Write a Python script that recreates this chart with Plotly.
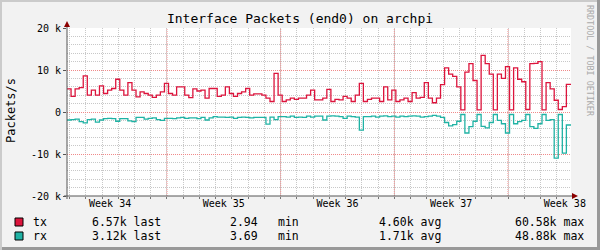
import plotly.graph_objects as go
import pandas as pd

# ---------------- data (k packets/s, 6-hour steps) ----------------
tx_k = [5.5, 3.7, 5.5, 5.8, 8.6, 4.0, 5.2, 4.0, 6.2, 4.4,
        5.2, 5.6, 7.8, 5.2, 4.0, 7.0, 5.2, 3.6, 4.8, 4.4,
        4.0, 3.5, 4.0, 4.8, 6.8, 4.4, 4.0, 6.0, 6.0, 4.0,
        3.4, 5.5, 5.0, 5.2, 3.3, 5.6, 5.6, 3.7, 4.0, 6.0,
        4.4, 3.7, 4.4, 4.8, 5.6, 4.0, 4.3, 4.3, 4.0, 3.3,
        2.5, 9.2, 4.0, 2.5, 2.9, 3.3, 3.0, 3.3, 3.3, 4.0,
        5.2, 2.9, 2.9, 3.3, 5.4, 2.5, 3.0, 2.9, 3.7, 3.3,
        2.5, 4.0, 6.8, 2.5, 3.0, 3.3, 3.3, 2.5, 6.0, 2.9,
        5.2, 2.5, 2.9, 3.3, 2.5, 4.6, 3.3, 3.5, 7.0, 3.3,
        2.2, 3.3, 6.5, 10.5, 9.0, 8.5, 6.0, 0.5, 9.5, 11.5,
        7.5, 0.5, 13.5, 11.5, 9.0, 0.5, 9.0, 8.0, 10.8, 0.5,
        10.5, 7.8, 7.2, 0.6, 11.5, 11.6, 12.0, 0.5, 7.0, 5.5,
        2.8, 0.6, 1.3, 6.6]
rx_k = [1.9, 1.8, 1.7, 2.3, 2.6, 1.8, 1.7, 2.4, 1.9, 1.6,
        1.5, 1.6, 2.2, 1.6, 1.6, 2.1, 2.3, 1.3, 1.3, 1.7,
        1.5, 1.4, 1.8, 2.0, 1.5, 1.5, 1.6, 1.4, 1.3, 1.5,
        1.4, 1.4, 1.6, 1.3, 1.9, 1.4, 1.1, 1.2, 1.2, 1.3,
        1.2, 1.5, 1.3, 1.2, 1.3, 1.4, 1.3, 1.3, 1.3, 2.9,
        1.2, 1.8, 1.1, 1.1, 1.2, 1.0, 1.3, 1.2, 1.3, 1.0,
        1.2, 1.0, 1.0, 1.9, 1.0, 0.9, 1.0, 1.1, 1.5, 1.0,
        1.1, 1.2, 4.3, 1.1, 1.1, 1.0, 1.2, 1.0, 0.9, 1.1,
        1.0, 1.2, 1.0, 1.1, 1.0, 0.9, 1.0, 1.2, 1.1, 1.0,
        0.8, 1.0, 1.3, 2.5, 3.3, 3.0, 2.2, 0.6, 5.0, 3.5,
        2.2, 0.6, 3.4, 3.8, 2.5, 0.6, 2.0, 2.8, 5.0, 0.6,
        2.8, 2.3, 2.0, 0.6, 3.5, 3.9, 2.8, 0.6, 2.0, 1.8,
        11.0, 0.6, 9.8, 3.1]

start_time = "2023-08-21 20:15"
end_time = "2023-09-21 21:05"
week_starts = ["2023-08-28", "2023-09-04", "2023-09-11", "2023-09-18"]
week_label_pos = ["2023-08-24 12:00", "2023-08-31 12:00", "2023-09-07 12:00",
                  "2023-09-14 12:00", "2023-09-21 12:00"]
week_labels = ["Week 34", "Week 35", "Week 36", "Week 37", "Week 38"]
y_tickvals = [-20000, -10000, 0, 10000, 20000]
y_ticktext = ["-20 k", "-10 k", "0", "10 k", "20 k"]

series_names = ["tx", "rx"]
series_colors = ["#DC143C", "#20B2A4"]
stat_last = ["6.57k", "3.12k"]
stat_min = ["2.94", "3.69"]
stat_avg = ["4.60k", "1.71k"]
stat_max = ["60.58k", "48.88k"]

# ---------------- geometry (pixels) ----------------
WIDTH, HEIGHT = 600, 250
L, R, T, B = 67, 571, 28, 196
PW, PH = R - L, B - T


def px(x):
    return (x - L) / PW


def py(y):
    return (B - y) / PH


FONT = "DejaVu Sans Mono"

times = pd.date_range(start_time, periods=len(tx_k), freq="6h")
x_vals = list(times) + [pd.Timestamp(end_time)]
tx_vals = [v * 1000 for v in tx_k] + [tx_k[-1] * 1000]
rx_vals = [-v * 1000 for v in rx_k] + [-rx_k[-1] * 1000]

fig = go.Figure()
for name, vals, col in zip(series_names, [tx_vals, rx_vals], series_colors):
    fig.add_trace(go.Scatter(x=x_vals, y=vals, mode="lines", name=name,
                             line=dict(color=col, width=1.3, shape="hv"),
                             showlegend=False, hoverinfo="skip"))

# red week boundary lines
for w in week_starts:
    fig.add_shape(type="line", xref="x", yref="paper", x0=w, x1=w, y0=0, y1=1,
                  line=dict(color="#F08A8A", width=1, dash="1px,1px"), layer="between")

fig.update_layout(
    width=WIDTH, height=HEIGHT,
    margin=dict(l=L, r=WIDTH - R, t=T, b=HEIGHT - B),
    paper_bgcolor="#F2F2F2", plot_bgcolor="#FFFFFF",
    font=dict(family=FONT, color="#000000"),
    title=dict(text="Interface Packets (end0) on archpi", x=0.5, xanchor="center",
               y=1 - 18.5 / HEIGHT, yanchor="middle", yref="container",
               font=dict(size=13, family=FONT, color="#000")),
    xaxis=dict(type="date", range=[start_time, end_time],
               tickmode="array", tickvals=week_label_pos, ticktext=week_labels,
               showgrid=False, zeroline=False, showline=False,
               ticks="", tickfont=dict(size=10, family=FONT),
               minor=dict(tickmode="linear", tick0="2023-08-22", dtick=86400000,
                          showgrid=True, gridcolor="#C8C8C8", griddash="1px,1px",
                          gridwidth=1, ticks="outside", ticklen=2, tickcolor="#777")),
    yaxis=dict(range=[-20000, 20000], tickmode="array", tickvals=y_tickvals,
               ticktext=y_ticktext, showgrid=True, gridcolor="#F08A8A",
               griddash="1px,1px", gridwidth=1, zeroline=False, showline=False,
               ticks="outside", ticklen=3, tickcolor="#555",
               tickfont=dict(size=10, family=FONT),
               minor=dict(dtick=2000, showgrid=True, gridcolor="#C8C8C8",
                          griddash="1px,1px", gridwidth=1)),
)

# axis lines with arrows
axis_col = "#555555"
arrow_col = "#8B0000"
fig.add_shape(type="line", xref="paper", yref="paper", x0=px(L - 3), x1=px(R + 3),
              y0=py(B), y1=py(B), line=dict(color=axis_col, width=1), layer="above")
fig.add_shape(type="line", xref="paper", yref="paper", x0=px(L), x1=px(L),
              y0=py(B + 3), y1=py(T - 4), line=dict(color=axis_col, width=1), layer="above")
fig.add_shape(type="path", xref="paper", yref="paper",
              path=f"M {px(R + 1)} {py(B - 3)} L {px(R + 7)} {py(B)} L {px(R + 1)} {py(B + 3)} Z",
              fillcolor=arrow_col, line=dict(color=arrow_col, width=0), layer="above")
fig.add_shape(type="path", xref="paper", yref="paper",
              path=f"M {px(L - 3)} {py(T - 1)} L {px(L)} {py(T - 7)} L {px(L + 3)} {py(T - 1)} Z",
              fillcolor=arrow_col, line=dict(color=arrow_col, width=0), layer="above")

# frame borders
fig.add_shape(type="rect", xref="paper", yref="paper", x0=px(0), x1=px(WIDTH), y0=py(0), y1=py(2),
              fillcolor="#CBCBCB", line=dict(width=0), layer="above")
fig.add_shape(type="rect", xref="paper", yref="paper", x0=px(0), x1=px(2), y0=py(0), y1=py(HEIGHT),
              fillcolor="#CBCBCB", line=dict(width=0), layer="above")
fig.add_shape(type="rect", xref="paper", yref="paper", x0=px(WIDTH - 3), x1=px(WIDTH), y0=py(0), y1=py(HEIGHT),
              fillcolor="#999999", line=dict(width=0), layer="above")
fig.add_shape(type="rect", xref="paper", yref="paper", x0=px(2), x1=px(WIDTH), y0=py(HEIGHT - 3), y1=py(HEIGHT),
              fillcolor="#999999", line=dict(width=0), layer="above")

# y-axis title
fig.add_annotation(text="Packets/s", xref="paper", yref="paper", x=px(11), y=py(111),
                   textangle=-90, showarrow=False, xanchor="center", yanchor="middle",
                   font=dict(size=12, family=FONT, color="#000"))
# watermark
fig.add_annotation(text="RRDTOOL&nbsp;/&nbsp;TOBI&nbsp;OETIKER", xref="paper", yref="paper",
                   x=px(590), y=py(61), textangle=90, showarrow=False,
                   xanchor="center", yanchor="middle",
                   font=dict(size=8.4, family=FONT, color="#AAAAAA"))

# legend
legend_rows_y = [222, 236]
for i, name in enumerate(series_names):
    yy = py(legend_rows_y[i])
    fig.add_shape(type="rect", xref="paper", yref="paper",
                  x0=px(15), x1=px(23), y0=py(legend_rows_y[i] - 4), y1=py(legend_rows_y[i] + 4),
                  fillcolor=series_colors[i], line=dict(color="#000", width=1), layer="above")
    items = [(name, 31, "left"), (stat_last[i] + " last", 90, "left"),
             (stat_min[i], 260, "right"), ("min", 276, "left"),
             (stat_avg[i] + " avg", 377, "left"), (stat_max[i] + " max", 513, "left")]
    for text, xx, anc in items:
        fig.add_annotation(text=text.replace(" ", "&nbsp;"), xref="paper", yref="paper",
                           x=px(xx), y=yy, showarrow=False, xanchor=anc, yanchor="middle",
                           font=dict(size=11.5, family=FONT, color="#000"))

fig.write_html("out.html")
